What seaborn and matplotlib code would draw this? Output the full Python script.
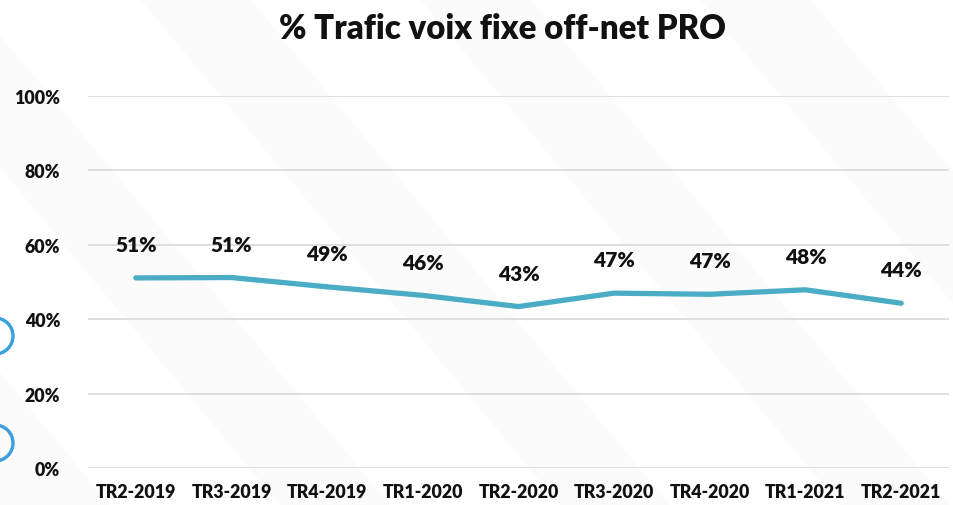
import matplotlib
matplotlib.use("Agg")
import matplotlib.pyplot as plt
from matplotlib.patches import Polygon, Circle
from matplotlib.ticker import PercentFormatter
import pandas as pd
import seaborn as sns

quarters = ["TR2-2019", "TR3-2019", "TR4-2019", "TR1-2020", "TR2-2020",
            "TR3-2020", "TR4-2020", "TR1-2021", "TR2-2021"]
share = [0.511, 0.512, 0.487, 0.464, 0.434, 0.470, 0.467, 0.479, 0.443]
title = "% Trafic voix fixe off-net PRO"

sns.set_theme(style="white")
plt.rcParams["font.family"] = ["Lato", "DejaVu Sans"]

df = pd.DataFrame({"quarter": quarters, "share": share})

W, H = 954, 506
fig = plt.figure(figsize=(W / 100, H / 100), dpi=100)
fig.patch.set_facecolor("white")

# background layer in pixel units: faint diagonal bands and edge rings
bg = fig.add_axes([0, 0, 1, 1], zorder=-10)
bg.set_xlim(0, W)
bg.set_ylim(H, 0)
bg.axis("off")
for x0 in [-420, -140, 140, 420, 700]:
    bg.add_patch(Polygon([[x0, 0], [x0 + 110, 0], [x0 + 110 + 420, H], [x0 + 420, H]],
                         closed=True, facecolor="#fbfbfb", edgecolor="none"))
for cy in [337, 444]:
    bg.add_patch(Circle((-5, cy), 18, fill=False, edgecolor="#3a9fdc", linewidth=2.4))

ax = fig.add_axes([88 / W, 1 - 469 / H, (949 - 88) / W, (469 - 97) / H])
ax.set_facecolor("none")

sns.lineplot(data=df, x="quarter", y="share", ax=ax, color="#4bacc6",
             linewidth=3.8, sort=False, solid_capstyle="round")

for i, v in enumerate(share):
    ax.annotate(f"{v * 100:.0f}%", (i, v), xytext=(0, 24), textcoords="offset points",
                ha="center", va="center", fontsize=15, fontweight="heavy",
                color="#111111")

ax.set_ylim(0, 1.0)
ax.set_xlim(-0.5, len(quarters) - 0.5)
ax.set_yticks([0, 0.2, 0.4, 0.6, 0.8, 1.0])
ax.yaxis.set_major_formatter(PercentFormatter(1.0, decimals=0))
ax.grid(axis="y", color="#d9d9d9", linewidth=1.2)
ax.set_axisbelow(True)
for s in ax.spines.values():
    s.set_visible(False)
ax.tick_params(axis="y", length=0, pad=20, labelsize=12.8, labelcolor="#111111")
ax.tick_params(axis="x", length=0, pad=11, labelsize=12.8, labelcolor="#111111")
for lbl in ax.get_xticklabels() + ax.get_yticklabels():
    lbl.set_fontweight("heavy")
ax.set_xlabel("")
ax.set_ylabel("")

fig.text(0.527, 1 - 29 / H, title, ha="center", va="center", fontsize=23.7,
         fontweight="heavy", color="#111111")

fig.savefig("out.png", dpi=100)
